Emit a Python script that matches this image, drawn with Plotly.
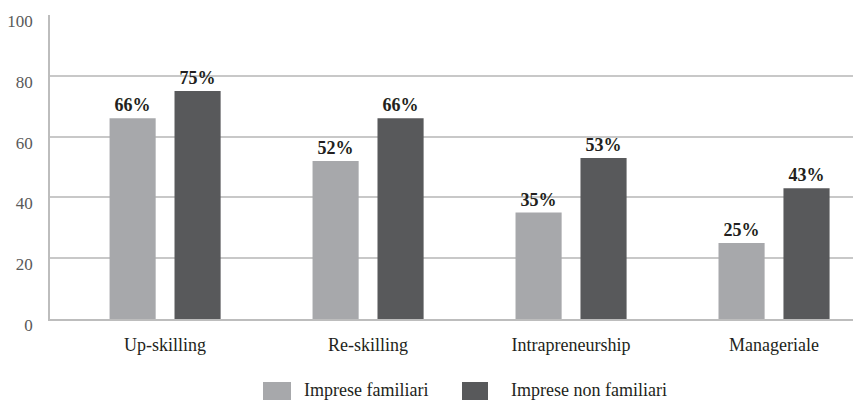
import plotly.graph_objects as go

categories = ["Up-skilling", "Re-skilling", "Intrapreneurship", "Manageriale"]
familiari = [66, 52, 35, 25]
non_familiari = [75, 66, 53, 43]
series_names = ["Imprese familiari", "Imprese non familiari"]
y_ticks = [0, 20, 40, 60, 80, 100]

LIGHT = "#A7A8AB"
DARK = "#58595B"
FONT = "serif"

W, H = 855, 400
M_L, M_R, M_T, M_B = 50, 2, 15, 81
plot_w = W - M_L - M_R

fig = go.Figure()
for name, vals, col in [(series_names[0], familiari, LIGHT), (series_names[1], non_familiari, DARK)]:
    fig.add_trace(go.Bar(
        x=categories, y=vals, name=name, marker_color=col, marker_line_width=0,
        text=[f"{v}%" for v in vals], textposition="outside", cliponaxis=False,
        textfont=dict(family=FONT, size=18, color="#231F20"),
        texttemplate="<b>%{text}</b>", showlegend=False,
    ))

# legend drawn as swatches + labels below the axis
legend_items = [(series_names[0], LIGHT, 263, 291, 302), (series_names[1], DARK, 462, 488, 509)]
shapes = []
annotations = []
for name, col, x0, x1, tx in legend_items:
    shapes.append(dict(type="rect", xref="paper", yref="paper",
                       x0=(x0 - M_L) / plot_w, x1=(x1 - M_L) / plot_w,
                       y0=-(382 - (H - M_B)) / (H - M_T - M_B),
                       y1=-(410 - (H - M_B)) / (H - M_T - M_B),
                       fillcolor=col, line_width=0, layer="above"))
    annotations.append(dict(text=name, xref="paper", yref="paper",
                            x=(tx - M_L) / plot_w, y=-(390 - (H - M_B)) / (H - M_T - M_B),
                            xanchor="left", yanchor="middle", showarrow=False,
                            font=dict(family=FONT, size=18, color="#231F20")))

fig.update_layout(
    width=W, height=H,
    margin=dict(l=M_L, r=M_R, t=M_T, b=M_B),
    paper_bgcolor="white", plot_bgcolor="white",
    barmode="group", bargap=0.36, bargroupgap=0.29,
    shapes=shapes, annotations=annotations,
    font=dict(family=FONT, size=18, color="#231F20"),
)
fig.update_xaxes(
    range=[-0.567, 3.389], showgrid=False, showline=True, linecolor="#BDBDBD", linewidth=2,
    ticks="", tickfont=dict(family=FONT, size=18, color="#231F20"), ticklabelstandoff=8,
)
fig.update_yaxes(
    range=[0, 100], tickvals=y_ticks, showgrid=True, gridcolor="#C8C8C8", gridwidth=1.5,
    showline=True, linecolor="#BDBDBD", linewidth=1.5, zeroline=False,
    ticks="", tickfont=dict(family=FONT, size=17, color="#595959"),
    ticklabelstandoff=12, ticklabelshift=6,
)

fig.write_html("out.html")
